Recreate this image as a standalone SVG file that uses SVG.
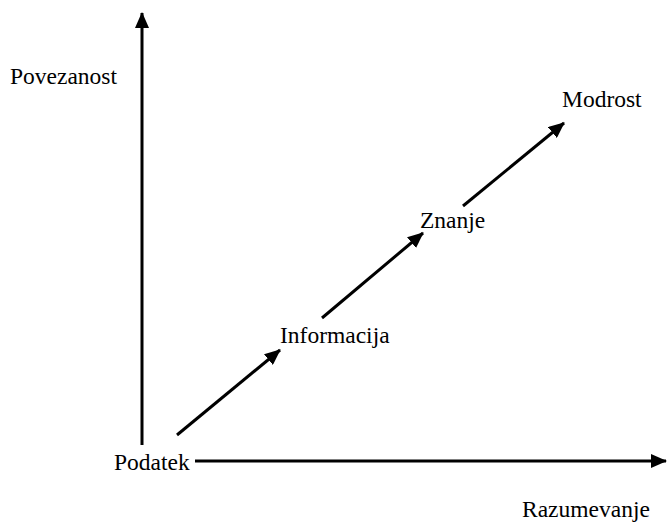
<svg xmlns="http://www.w3.org/2000/svg" width="667" height="525" viewBox="0 0 667 525" font-family="'Liberation Serif', 'Times New Roman', Times, serif">
<style>
text{font-family:'Liberation Serif','Times New Roman',Times,serif;font-size:23.5px;fill:#000}
.c line{stroke:#000;stroke-width:3;marker-end:url(#ah)}
</style>
<defs>
<marker id="ah" markerUnits="userSpaceOnUse" markerWidth="16" markerHeight="14" refX="15" refY="7" orient="auto">
<path d="M0,0 L16,7 L0,14 Z" fill="#000"/>
</marker>
</defs>
<rect width="667" height="525" fill="#fff"/>
<g class="c" id="connectors">
<line x1="142" y1="445" x2="142" y2="13"/>
<line x1="195" y1="461" x2="666" y2="461"/>
<line x1="177" y1="435" x2="280" y2="350"/>
<line x1="322" y1="318" x2="423" y2="233"/>
<line x1="463" y1="206" x2="564" y2="123"/>
</g>
<g id="povezanost"><text x="10" y="84">Povezanost</text></g>
<g id="podatek"><text x="114" y="470">Podatek</text></g>
<g id="razumevanje"><text x="522" y="517">Razumevanje</text></g>
<g id="informacija"><text x="280" y="343">Informacija</text></g>
<g id="znanje"><text x="420" y="228">Znanje</text></g>
<g id="modrost"><text x="562" y="107">Modrost</text></g>
</svg>
